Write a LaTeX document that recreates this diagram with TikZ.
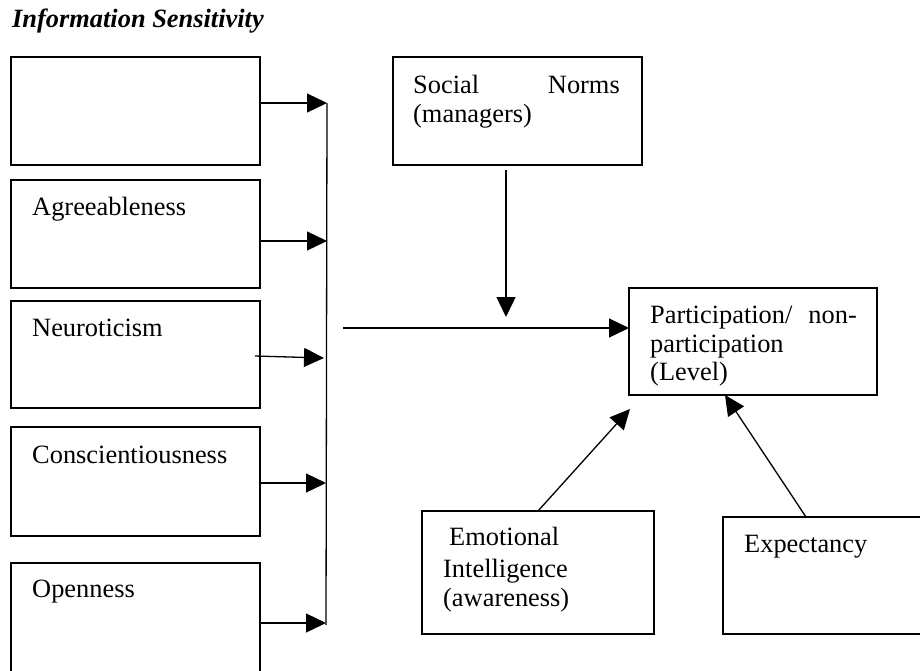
\documentclass[tikz,border=0pt]{standalone}
\usepackage{fontspec}
\setmainfont{Liberation Serif}
\usetikzlibrary{arrows.meta,calc}
\begin{document}
\begin{tikzpicture}[x=1pt,y=-1pt,
  box/.style={draw=black, line width=1.2pt, anchor=north west, inner sep=0pt, outer sep=0pt},
  lbl/.style={anchor=base west, inner sep=0pt, font=\fontsize{26.4}{29.5}\selectfont},
  lblr/.style={lbl, anchor=base east},
  arr/.style={line width=1.3pt, -{Triangle[length=20pt,width=19pt]}},
  ln/.style={line width=1.3pt}]
\useasboundingbox (0,0) rectangle (920,670);
\clip (0,0) rectangle (920,670);
\node[anchor=base west, inner sep=0pt, font=\fontsize{26.4}{30}\selectfont\bfseries\itshape] (title) at (12,27) {Information Sensitivity};

% left column
\node[box, minimum width=249pt, minimum height=108pt] (b1) at (11,57) {};
\node[box, minimum width=249pt, minimum height=108pt] (b2) at (11,180) {};
\node[box, minimum width=249pt, minimum height=107pt] (b3) at (11,301) {};
\node[box, minimum width=249pt, minimum height=109pt] (b4) at (11,427) {};
\node[box, minimum width=249pt, minimum height=150pt] (b5) at (11,563) {};
\node[lbl] (t2) at (32,215) {Agreeableness};
\node[lbl] (t3) at (32,336) {Neuroticism};
\node[lbl] (t4) at (32,463) {Conscientiousness};
\node[lbl] (t5) at (32,597) {Openness};

% bus
\coordinate (k1) at (327,103);
\coordinate (k2) at (327,241);
\coordinate (k3) at (324,358);
\coordinate (k4) at (326,483);
\coordinate (k5) at (326,623);
\draw[ln] (k1) -- (326,625);
\draw[arr] (b1.east |- k1) -- (k1);
\draw[arr] (b2.east |- k2) -- (k2);
\draw[arr] ($(b3.east)+(-5,1.5)$) -- (k3);
\draw[arr] (b4.east |- k4) -- (k4);
\draw[arr] (b5.east |- k5) -- (k5);

% social norms
\node[box, minimum width=249pt, minimum height=108pt] (norms) at (393,57) {};
\node[lbl] (sn1) at (413,93) {Social};
\node[lblr] (sn2) at (620,93) {Norms};
\node[lbl] (sn3) at (413,122) {(managers)};

% participation
\node[box, minimum width=248pt, minimum height=107pt] (part) at (629,288) {};
\node[lbl] (p1) at (650,323) {Participation/};
\node[lblr] (p2) at (857,323) {non-};
\node[lbl] (p3) at (650,352) {participation};
\node[lbl] (p4) at (650,380) {(Level)};

% main arrow
\coordinate (hs) at (343,328);
\draw[arr] (hs) -- (part.west |- hs);
\coordinate (snt) at (506,317);
\draw[arr] ($(snt |- norms.south)+(0,5)$) -- (snt);

% emotional intelligence
\node[box, minimum width=232pt, minimum height=123pt] (ei) at (422,511) {};
\node[lbl] (e1) at (449,545) {Emotional};
\node[lbl] (e2) at (443,577) {Intelligence};
\node[lbl] (e3) at (443,606) {(awareness)};

% expectancy
\node[box, minimum width=250pt, minimum height=117pt] (ex) at (723,517) {};
\node[lbl] (x1) at (744,552) {Expectancy};

\coordinate (eit) at (630,409);
\draw[arr] (ei.north) -- (eit);
\draw[arr] ($(ex.north west)+(83,0)$) -- ($(part.south west)+(96,0)$);
\end{tikzpicture}
\end{document}
